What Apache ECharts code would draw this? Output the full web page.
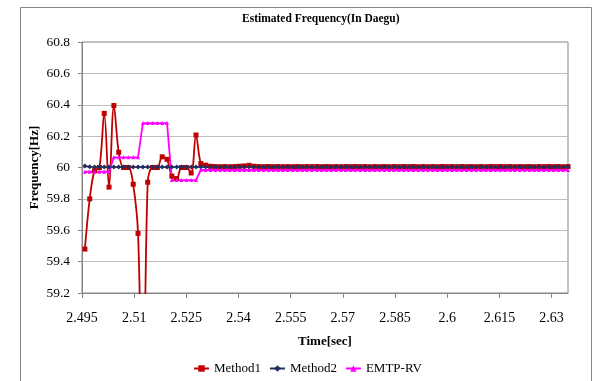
<!DOCTYPE html>
<html>
<head>
<meta charset="utf-8">
<script src="https://cdn.jsdelivr.net/npm/echarts@6/dist/echarts.min.js"></script>
<style>
html,body{margin:0;padding:0;background:#fff;}
#chart{width:602px;height:381px;}
</style>
</head>
<body>
<div id="chart"></div>
<script>
// Sampling grid: 12 samples per 60 Hz cycle (1/720 s), first sample 1797/720 s
const firstSample = 1797;
const samplesPerSecond = 720;
const sampleCount = 101;
const times = Array.from({length: sampleCount}, (_, i) => (firstSample + i) / samplesPerSecond);

const xTickLabels = [2.495, 2.51, 2.525, 2.54, 2.555, 2.57, 2.585, 2.6, 2.615, 2.63];
const yTickLabels = [59.2, 59.4, 59.6, 59.8, 60, 60.2, 60.4, 60.6, 60.8];

const method1 = [
  59.48, 59.80, 59.98, 60.00, 60.345, 59.875, 60.395, 60.097, 60.00, 60.00,
  59.893, 59.58, 58.30, 59.906, 60.00, 60.00, 60.068, 60.052, 59.945, 59.93,
  60.00, 60.00, 59.965, 60.207, 60.025, 60.015, 60.008, 60.006, 60.005, 60.006,
  60.005, 60.006, 60.008, 60.010, 60.014, 60.008, 60.006, 60.005, 60.006, 60.005,
  60.006, 60.005, 60.006, 60.005, 60.006, 60.005, 60.006, 60.005, 60.006, 60.005,
  60.006, 60.005, 60.006, 60.005, 60.006, 60.005, 60.006, 60.005, 60.006, 60.005,
  60.006, 60.005, 60.006, 60.005, 60.006, 60.005, 60.006, 60.005, 60.006, 60.005,
  60.006, 60.005, 60.006, 60.005, 60.006, 60.005, 60.006, 60.005, 60.006, 60.005,
  60.006, 60.005, 60.006, 60.005, 60.006, 60.005, 60.006, 60.005, 60.006, 60.005,
  60.006, 60.005, 60.006, 60.005, 60.006, 60.005, 60.006, 60.005, 60.006, 60.005,
  60.006
];

const method2 = [
  60.010, 60.005, 60.003, 60.003, 60.003, 60.003, 60.003, 60.003, 60.003, 60.003,
  60.003, 60.003, 60.003, 60.003, 60.003, 60.003, 60.003, 60.003, 60.003, 60.003,
  60.003, 60.003, 60.003, 60.003, 60.003, 60.003, 60.003, 60.003, 60.003, 60.003,
  60.003, 60.003, 60.003, 60.003, 60.003, 60.003, 60.003, 60.003, 60.003, 60.003,
  60.003, 60.003, 60.003, 60.003, 60.003, 60.003, 60.003, 60.003, 60.003, 60.003,
  60.003, 60.003, 60.003, 60.003, 60.003, 60.003, 60.003, 60.003, 60.003, 60.003,
  60.003, 60.003, 60.003, 60.003, 60.003, 60.003, 60.003, 60.003, 60.003, 60.003,
  60.003, 60.003, 60.003, 60.003, 60.003, 60.003, 60.003, 60.003, 60.003, 60.003,
  60.003, 60.003, 60.003, 60.003, 60.003, 60.003, 60.003, 60.003, 60.003, 60.003,
  60.003, 60.003, 60.003, 60.003, 60.003, 60.003, 60.003, 60.003, 60.003, 60.003,
  60.003
];

const emtpRV = [
  59.973, 59.973, 59.973, 59.973, 59.973, 59.973, 60.065, 60.065, 60.065, 60.065,
  60.065, 60.065, 60.283, 60.283, 60.283, 60.283, 60.283, 60.283, 59.920, 59.920,
  59.920, 59.920, 59.920, 59.920, 59.984, 59.984, 59.984, 59.984, 59.984, 59.984,
  59.984, 59.984, 59.984, 59.984, 59.984, 59.984, 59.984, 59.984, 59.984, 59.984,
  59.984, 59.984, 59.984, 59.984, 59.984, 59.984, 59.984, 59.984, 59.984, 59.984,
  59.984, 59.984, 59.984, 59.984, 59.984, 59.984, 59.984, 59.984, 59.984, 59.984,
  59.984, 59.984, 59.984, 59.984, 59.984, 59.984, 59.984, 59.984, 59.984, 59.984,
  59.984, 59.984, 59.984, 59.984, 59.984, 59.984, 59.984, 59.984, 59.984, 59.984,
  59.984, 59.984, 59.984, 59.984, 59.984, 59.984, 59.984, 59.984, 59.984, 59.984,
  59.984, 59.984, 59.984, 59.984, 59.984, 59.984, 59.984, 59.984, 59.984, 59.984,
  59.984
];

const pair = (vals) => times.map((t, i) => [t, vals[i]]);
const serif = "'Liberation Serif', 'Times New Roman', serif";
const axisGray = '#868686';

const chart = echarts.init(document.getElementById('chart'));
chart.setOption({
  animation: false,
  backgroundColor: '#ffffff',
  textStyle: {fontFamily: serif},
  graphic: [{
    type: 'rect',
    shape: {x: 20.5, y: 7.5, width: 571, height: 385},
    style: {fill: 'none', stroke: axisGray, lineWidth: 1},
    silent: true
  }],
  title: {
    text: 'Estimated Frequency(In Daegu)',
    left: 237,
    top: 8,
    textStyle: {fontFamily: serif, fontSize: 11.5, fontWeight: 'bold', color: '#000'}
  },
  legend: {
    top: 357,
    left: 188,
    itemWidth: 15,
    itemHeight: 8,
    itemGap: 8,
    textStyle: {fontFamily: serif, fontSize: 13, color: '#000'},
    data: ['Method1', 'Method2', 'EMTP-RV']
  },
  grid: {
    left: 82, right: 34, top: 42, bottom: 88,
    show: true, borderColor: axisGray, borderWidth: 1, backgroundColor: 'transparent'
  },
  xAxis: {
    type: 'value',
    min: xTickLabels[0],
    max: times[times.length - 1],
    name: 'Time[sec]',
    nameLocation: 'middle',
    nameGap: 42,
    nameMoveOverlap: false,
    nameTextStyle: {fontFamily: serif, fontSize: 13, fontWeight: 'bold', color: '#000'},
    axisLine: {show: true, lineStyle: {color: axisGray}},
    axisTick: {show: true, length: 5, customValues: xTickLabels, lineStyle: {color: axisGray}},
    axisLabel: {
      customValues: xTickLabels,
      margin: 18,
      fontFamily: serif, fontSize: 14, color: '#000',
      formatter: (v) => String(+(+v).toFixed(3))
    },
    splitLine: {show: false}
  },
  yAxis: {
    type: 'value',
    min: yTickLabels[0],
    max: yTickLabels[yTickLabels.length - 1],
    interval: 0.2,
    name: 'Frequency[Hz]',
    nameLocation: 'middle',
    nameRotate: 90,
    nameGap: 41,
    nameMoveOverlap: false,
    nameTextStyle: {fontFamily: serif, fontSize: 13, fontWeight: 'bold', color: '#000'},
    axisLine: {show: true, lineStyle: {color: axisGray}},
    axisTick: {show: true, length: 4, lineStyle: {color: axisGray}},
    axisLabel: {margin: 12, fontFamily: serif, fontSize: 13.5, color: '#000',
      formatter: (v) => String(+(+v).toFixed(1))},
    splitLine: {show: true, lineStyle: {color: '#BFBFBF', width: 1}}
  },
  series: [
    {
      name: 'Method1', type: 'line', data: pair(method1),
      smooth: 0.35, symbol: 'rect', symbolSize: 5, showAllSymbol: true,
      clip: true,
      lineStyle: {color: '#C00000', width: 1.8},
      itemStyle: {color: '#C00000'}
    },
    {
      name: 'Method2', type: 'line', data: pair(method2),
      symbol: 'diamond', symbolSize: 5, showAllSymbol: true,
      clip: true,
      lineStyle: {color: '#1F2F5F', width: 1.5},
      itemStyle: {color: '#1F2F5F'}
    },
    {
      name: 'EMTP-RV', type: 'line', data: pair(emtpRV),
      symbol: 'triangle', symbolSize: 4, showAllSymbol: true,
      clip: true,
      lineStyle: {color: '#FF00FF', width: 1.8},
      itemStyle: {color: '#FF00FF'}
    }
  ]
});
</script>
</body>
</html>
